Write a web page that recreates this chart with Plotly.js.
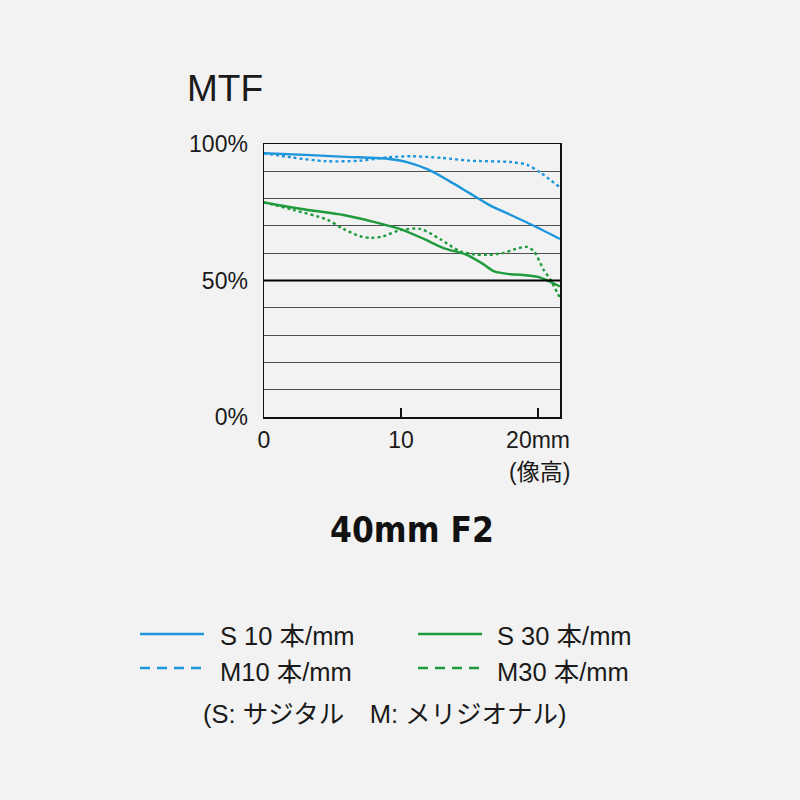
<!DOCTYPE html>
<html>
<head>
<meta charset="utf-8">
<script src="https://cdn.plot.ly/plotly-3.0.1.min.js"></script>
<style>
  html, body { margin: 0; padding: 0; background: #f2f2f2; }
  #myDiv { width: 800px; height: 800px; }
</style>
</head>
<body>
<div id="myDiv"></div>
<script>
// image height (mm) and MTF (%)
var s10x = [0, 3, 6, 9, 10.5, 12, 13.5, 15, 16.5, 18, 19.5, 21.6];
var s10y = [96.6, 96.0, 95.3, 94.6, 93.3, 90.6, 86.5, 82, 77.5, 74, 70.5, 65.2];

var m10x = [0, 2, 4.5, 7, 9, 10.7, 13, 15, 18, 19.2, 20.2, 21.6];
var m10y = [96.6, 95.1, 93.7, 93.9, 95.1, 95.5, 94.9, 93.9, 93.4, 92.4, 89.4, 84.1];

var s30x = [0, 3, 5.8, 8, 9.9, 11.5, 13.1, 14.8, 16.0, 16.8, 18.0, 18.7, 20.0, 21.6];
var s30y = [78.6, 76.0, 74.0, 71.5, 68.9, 65.6, 61.9, 59.4, 56, 53.3, 52.3, 52.1, 51.3, 47.8];

var m30x = [0, 2.1, 4.6, 5.8, 7.0, 7.8, 8.7, 9.9, 11.4, 12.9, 14.3, 15.5, 16.3, 17.5, 18.2, 19.2, 19.7, 20.4, 20.9, 21.6];
var m30y = [78.6, 75.9, 72.3, 68.9, 66.2, 65.6, 66.2, 68.4, 68.9, 65.0, 60.7, 59.5, 59.4, 60.1, 61.3, 62.3, 60.7, 54.0, 50.3, 43.6];

var xTicks = [0, 10, 20];
var xLabels = ['0', '10', '20mm'];
var yTicks = [0, 10, 20, 30, 40, 50, 60, 70, 80, 90, 100];
var yLabels = ['0%', '', '', '', '', '50%', '', '', '', '', '100%'];

var legendNames = ['S 10 本/mm', 'M10 本/mm', 'S 30 本/mm', 'M30 本/mm'];

var BLUE = '#1e96dc';
var GREEN = '#1f9a3c';
var FONT = 'Liberation Sans, Arial, Noto Sans CJK JP, sans-serif';

var L = 264, R = 560, T = 144, B = 417;
// pixel -> paper helpers
const px = (x) => (x - L) / (R - L);
const py = (y) => (B - y) / (B - T);

function trace(x, y, color, dash) {
  return {x: x, y: y, mode: 'lines', hoverinfo: 'skip',
    line: {color: color, width: 2.4, dash: dash, shape: 'spline', smoothing: 0.8}};
}

var data = [
  trace(s10x, s10y, BLUE, 'solid'),
  trace(m10x, m10y, BLUE, '3px,3px'),
  trace(s30x, s30y, GREEN, 'solid'),
  trace(m30x, m30y, GREEN, '3px,3px')
];

function legLine(x0, y, color, dash) {
  return {type: 'line', xref: 'paper', yref: 'paper', x0: px(x0), x1: px(x0 + 64),
    y0: py(y), y1: py(y), line: {color: color, width: 2.5, dash: dash}};
}
function txt(x, y, text, size, anchor, extra) {
  return Object.assign({xref: 'paper', yref: 'paper', x: px(x), y: py(y), text: text,
    showarrow: false, xanchor: anchor, yanchor: 'middle',
    font: {family: FONT, size: size, color: '#1a1a1a'}}, extra || {});
}

var layout = {
  width: 800, height: 800,
  paper_bgcolor: '#f2f2f2', plot_bgcolor: '#f2f2f2',
  margin: {l: L, r: 800 - R, t: T, b: 800 - B},
  showlegend: false,
  font: {family: FONT, color: '#1a1a1a'},
  xaxis: {
    range: [0, 21.6], tickvals: xTicks, ticktext: xLabels,
    ticks: 'inside', ticklen: 9, tickwidth: 1.5, tickcolor: '#111',
    showgrid: false, zeroline: false,
    showline: true, mirror: true, linecolor: '#111', linewidth: 1.5,
    tickfont: {size: 23, family: FONT, color: '#1a1a1a'}, ticklabelstandoff: 2
  },
  yaxis: {
    range: [0, 100], tickvals: yTicks, ticktext: yLabels,
    ticks: '', showgrid: true, gridcolor: '#505050', gridwidth: 1, zeroline: false,
    showline: true, mirror: true, linecolor: '#111', linewidth: 1.5,
    tickfont: {size: 23, family: FONT, color: '#1a1a1a'}, ticklabelstandoff: 10
  },
  shapes: [
    {type: 'line', xref: 'paper', yref: 'y', x0: 0, x1: 1, y0: 50, y1: 50,
      line: {color: '#000', width: 2}, layer: 'above'},
    legLine(140, 634, BLUE, 'solid'),
    legLine(140, 668, BLUE, '10px,7px'),
    legLine(418, 634, GREEN, 'solid'),
    legLine(418, 668, GREEN, '10px,7px')
  ],
  annotations: [
    txt(185, 88, 'MTF', 37, 'left'),
    txt(572, 472, '(像高)', 23, 'right'),
    txt(412, 530, '<b>40mm F2</b>', 34, 'center',
      {font: {family: 'DejaVu Sans Condensed, sans-serif', size: 35, color: '#111'}}),
    txt(218, 636, legendNames[0], 25.5, 'left'),
    txt(218, 672, legendNames[1], 25.5, 'left'),
    txt(495, 636, legendNames[2], 25.5, 'left'),
    txt(495, 672, legendNames[3], 25.5, 'left'),
    txt(385, 714, '(S: サジタル　M: メリジオナル)', 25.5, 'center')
  ]
};

Plotly.newPlot('myDiv', data, layout, {staticPlot: true});
</script>
</body>
</html>
